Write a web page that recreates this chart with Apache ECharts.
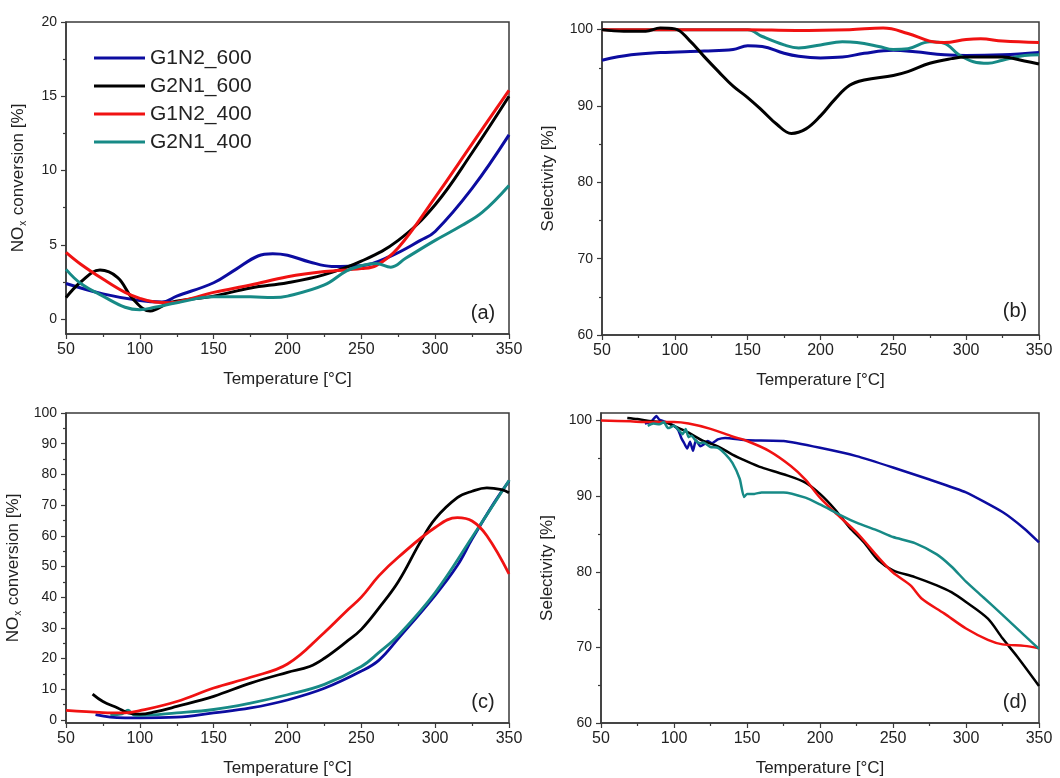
<!DOCTYPE html>
<html>
<head>
<meta charset="utf-8">
<script src="https://cdn.jsdelivr.net/npm/echarts@6/dist/echarts.min.js"></script>
<style>
html,body{margin:0;padding:0;background:#fff;}
#chart{width:1060px;height:778px;}
</style>
</head>
<body>
<div id="chart"></div>
<script>
// ---------- series names ----------
const seriesNames = ['G1N2_600', 'G2N1_600', 'G1N2_400', 'G2N1_400'];

// ---------- panel (a): NOx conversion ----------
const a_blue_T  = [50,75,100,115,125,150,165,180,190,200,215,230,250,270,290,300,325,350];
const a_blue_v  = [2.4,1.7,1.25,1.15,1.55,2.45,3.35,4.25,4.4,4.3,3.85,3.55,3.6,4.25,5.3,5.9,8.8,12.4];
const a_black_T = [50,60,73,85,95,107,120,135,150,175,200,225,250,275,300,325,350];
const a_black_v = [1.45,2.5,3.3,2.8,1.4,0.55,1.1,1.35,1.55,2.1,2.45,3.0,3.9,5.3,7.7,11.2,15.0];
const a_red_T   = [50,60,75,90,100,110,120,135,150,175,200,225,250,260,275,300,325,350];
const a_red_v   = [4.5,3.7,2.7,1.8,1.4,1.15,1.1,1.4,1.8,2.3,2.85,3.2,3.4,3.6,4.8,8.2,11.8,15.4];
const a_teal_T  = [50,60,75,90,100,110,125,150,175,190,200,225,240,250,260,270,280,300,318,332,350];
const a_teal_v  = [3.35,2.4,1.55,0.8,0.63,0.8,1.1,1.5,1.5,1.45,1.55,2.3,3.25,3.6,3.75,3.5,4.1,5.3,6.3,7.2,9.0];

// ---------- panel (b): selectivity ----------
const b_blue_T  = [50,70,90,120,140,150,160,175,185,200,215,230,250,265,285,300,325,350];
const b_blue_v  = [96.0,96.7,97.0,97.2,97.4,97.9,97.8,96.9,96.5,96.3,96.4,96.9,97.3,97.1,96.7,96.6,96.7,97.0];
const b_black_T = [50,65,80,90,100,110,120,130,140,150,160,170,180,190,200,210,220,230,250,260,275,290,300,325,340,350];
const b_black_v = [100,99.8,99.8,100.2,100.1,98.6,96.5,94.5,92.6,91.1,89.4,87.6,86.4,87.0,88.7,90.9,92.7,93.4,94.0,94.5,95.6,96.2,96.4,96.4,95.9,95.5];
const b_red_T   = [50,100,150,183,220,243,260,275,285,300,310,325,350];
const b_red_v   = [100,100,100,99.9,100,100.2,99.5,98.5,98.3,98.7,98.8,98.5,98.3];
const b_teal_T  = [50,100,150,160,175,185,200,215,225,240,250,260,275,285,295,305,315,325,340,350];
const b_teal_v  = [100,100,100,99.1,98.0,97.6,98.0,98.4,98.3,97.8,97.4,97.5,98.4,98.2,96.7,95.8,95.6,96.0,96.6,96.7];

// ---------- panel (c): NOx conversion ----------
const c_blue_T  = [70,80,90,100,125,150,175,200,225,250,262,275,300,315,325,340,350];
const c_blue_v  = [1.7,0.9,0.7,0.7,0.9,2.3,3.9,6.5,10.3,15.9,19.5,26.5,40.6,50.3,58.9,70.8,77.8];
const c_black_T = [68,75,85,92,100,110,125,150,175,200,215,225,240,250,262,275,290,300,315,325,335,345,350];
const c_black_v = [8.4,6.0,3.9,2.3,1.9,2.6,4.4,7.7,12.0,15.5,17.4,20.1,25.5,29.5,36.5,45.0,58.0,65.5,72.4,74.5,75.6,75.0,74.0];
const c_red_T   = [50,75,90,100,125,150,175,200,225,240,250,262,275,300,315,325,335,350];
const c_red_v   = [3.1,2.4,2.3,3.0,6.0,10.4,13.9,18.2,28.5,35.5,40.0,47.0,53.0,62.7,65.9,64.8,60.0,47.6];
const c_teal_T  = [80,88,92,96,100,125,150,175,200,225,250,262,275,300,325,350];
const c_teal_v  = [1.7,2.0,3.2,1.6,1.5,2.3,3.4,5.5,8.2,11.6,17.4,22.0,27.5,41.5,59.5,78.0];

// ---------- panel (d): selectivity ----------
const d_blue_T  = [80,84,88,90,93,96,100,103,105,107,109,111,113,115,118,120,123,126,130,135,150,175,200,225,250,275,300,325,340,350];
const d_blue_v  = [99.6,99.8,100.6,100.1,99.9,99.7,99.3,98.7,97.7,97.0,96.3,97.2,96.0,97.4,96.6,96.8,97.3,97.0,97.5,97.7,97.4,97.3,96.4,95.3,93.8,92.2,90.5,87.9,85.7,83.9];
const d_black_T = [68,75,85,95,100,110,120,130,140,150,160,175,190,200,210,220,230,240,250,265,280,290,300,315,325,335,350];
const d_black_v = [100.35,100.2,99.9,99.7,99.3,98.4,97.3,96.6,95.5,94.6,93.8,92.9,91.8,90.3,88.3,85.9,83.9,81.5,80.2,79.3,78.2,77.3,76.0,73.8,71.2,68.8,64.9];
const d_red_T   = [50,70,80,100,110,125,140,150,165,180,190,200,210,225,240,250,262,270,285,300,315,325,340,350];
const d_red_v   = [100,99.9,99.8,99.8,99.6,98.9,97.9,97.3,96.0,94.0,92.2,89.8,87.9,85.2,81.9,79.9,78.2,76.4,74.5,72.5,71.0,70.4,70.2,69.9];
const d_teal_T  = [82,86,90,93,96,100,103,106,108,110,112,115,118,120,125,130,135,140,145,148,150,155,160,175,190,200,215,225,240,250,265,280,290,300,312,325,340,350];
const d_teal_v  = [99.3,99.6,99.5,99.8,99.0,99.3,98.8,98.2,98.9,97.8,98.0,97.3,97.0,97.1,96.5,96.4,95.6,94.4,92.3,89.9,90.3,90.3,90.5,90.5,89.8,88.9,87.4,86.5,85.4,84.6,83.8,82.3,80.7,78.7,76.6,74.3,71.6,69.8];

// ---------- axis tick labels ----------
const xTicks      = [50,100,150,200,250,300,350];
const yTicksConv1 = [0,5,10,15,20];
const yMinorConv1 = [2.5,7.5,12.5,17.5];
const yTicksConv2 = [0,10,20,30,40,50,60,70,80,90,100];
const yMinorConv2 = [5,15,25,35,45,55,65,75,85,95];
const yTicksSel   = [60,70,80,90,100];
const yMinorSel   = [65,75,85,95];

// ---------- style ----------
const FONT = 'Liberation Sans, Arial, sans-serif';
const AX = '#3a3a3a';
const TXT = '#222';
const colors = {blue:'#0c0ca0', black:'#000000', red:'#f01212', teal:'#178a86'};

const grids = [
  {left:66,  top:22,  width:443, height:312},
  {left:602, top:22,  width:437, height:313},
  {left:66,  top:413, width:443, height:312},
  {left:601, top:413, width:438, height:312}
];

const convName = '{n|NO}{s|x}{n| conversion [%]}';
const selName = 'Selectivity [%]';
const panelY = [
  {min:-1, max:20,  ticks:yTicksConv1, minor:yMinorConv1, name:convName, gap:38},
  {min:60, max:101, ticks:yTicksSel,   minor:yMinorSel,   name:selName,  gap:45},
  {min:-1, max:100, ticks:yTicksConv2, minor:yMinorConv2, name:convName, gap:43},
  {min:60, max:101, ticks:yTicksSel,   minor:yMinorSel,   name:selName,  gap:45}
];

const xAxes = grids.map((g,i)=>({
  type:'value', gridIndex:i, min:xTicks[0], max:xTicks[xTicks.length-1], interval:50,
  name:'Temperature [°C]', nameLocation:'middle', nameGap:37,
  nameTextStyle:{fontFamily:FONT, fontSize:17, color:TXT},
  axisLine:{show:true, onZero:false, lineStyle:{color:AX, width:1.5}},
  axisTick:{show:true, inside:false, length:5, lineStyle:{color:AX, width:1.2}},
  minorTick:{show:true, splitNumber:2, length:3, lineStyle:{color:AX, width:1.2}},
  axisLabel:{fontFamily:FONT, fontSize:16, color:TXT, margin:8},
  splitLine:{show:false}
}));

const yAxes = [];
panelY.forEach((p,i)=>{
  yAxes.push({
    type:'value', gridIndex:i, min:p.min, max:p.max,
    name:p.name, nameLocation:'middle', nameGap:p.gap, nameRotate:90,
    nameTextStyle:{fontFamily:FONT, fontSize:17, color:TXT,
      rich:{n:{fontFamily:FONT, fontSize:17, color:TXT, lineHeight:20},
            s:{fontFamily:FONT, fontSize:10, color:TXT, lineHeight:20, verticalAlign:'bottom', padding:[0,1,0,1]}}},
    axisLine:{show:true, onZero:false, lineStyle:{color:AX, width:1.5}},
    axisTick:{show:true, inside:false, length:5, customValues:p.ticks, lineStyle:{color:AX, width:1.2}},
    axisLabel:{fontFamily:FONT, fontSize:14, color:TXT, margin:9, customValues:p.ticks},
    splitLine:{show:false}
  });
});
panelY.forEach((p,i)=>{
  yAxes.push({
    type:'value', gridIndex:i, min:p.min, max:p.max, position:'left',
    axisLine:{show:false},
    axisTick:{show:true, inside:false, length:3, customValues:p.minor, lineStyle:{color:AX, width:1.2}},
    axisLabel:{show:false, customValues:p.minor},
    splitLine:{show:false}
  });
});

function pairs(T, V){ return T.map((t,k)=>[t, V[k]]); }
function mk(name, color, T, V, idx, smooth, width){
  return {
    name:name, type:'line', xAxisIndex:idx, yAxisIndex:idx,
    data:pairs(T,V), showSymbol:false, symbol:'none', smooth:smooth,
    lineStyle:{color:color, width:width}, itemStyle:{color:color},
    emphasis:{disabled:true}, z:3
  };
}

const series = [
  mk(seriesNames[0], colors.blue,  a_blue_T,  a_blue_v,  0, 0.4, 3),
  mk(seriesNames[1], colors.black, a_black_T, a_black_v, 0, 0.4, 3),
  mk(seriesNames[2], colors.red,   a_red_T,   a_red_v,   0, 0.4, 3),
  mk(seriesNames[3], colors.teal,  a_teal_T,  a_teal_v,  0, 0.4, 3),

  mk(seriesNames[0], colors.blue,  b_blue_T,  b_blue_v,  1, 0.4, 3),
  mk(seriesNames[3], colors.teal,  b_teal_T,  b_teal_v,  1, 0.4, 3),
  mk(seriesNames[2], colors.red,   b_red_T,   b_red_v,   1, 0.4, 3),
  mk(seriesNames[1], colors.black, b_black_T, b_black_v, 1, 0.4, 3),

  mk(seriesNames[0], colors.blue,  c_blue_T,  c_blue_v,  2, 0.4, 2.8),
  mk(seriesNames[3], colors.teal,  c_teal_T,  c_teal_v,  2, 0.4, 2.8),
  mk(seriesNames[1], colors.black, c_black_T, c_black_v, 2, 0.4, 2.8),
  mk(seriesNames[2], colors.red,   c_red_T,   c_red_v,   2, 0.4, 2.8),

  mk(seriesNames[0], colors.blue,  d_blue_T,  d_blue_v,  3, 0.15, 2.5),
  mk(seriesNames[1], colors.black, d_black_T, d_black_v, 3, 0.3, 2.5),
  mk(seriesNames[2], colors.red,   d_red_T,   d_red_v,   3, 0.3, 2.5),
  mk(seriesNames[3], colors.teal,  d_teal_T,  d_teal_v,  3, 0.2, 2.5)
];

const panelLabels = [
  {t:'(a)', x:483,  y:313},
  {t:'(b)', x:1015, y:311},
  {t:'(c)', x:483,  y:702},
  {t:'(d)', x:1015, y:702}
];

const option = {
  backgroundColor:'#fff',
  animation:false,
  grid: grids.map(g=>Object.assign({show:true, borderColor:AX, borderWidth:1.5, backgroundColor:'transparent'}, g)),
  xAxis:xAxes,
  yAxis:yAxes,
  legend:{
    data:seriesNames, orient:'vertical', left:89, top:39,
    icon:'rect', itemWidth:51, itemHeight:3, itemGap:0,
    textStyle:{fontFamily:FONT, fontSize:21, color:TXT, lineHeight:28},
    selectedMode:false
  },
  graphic: panelLabels.map(p=>({
    type:'text', x:p.x, y:p.y, z:10,
    style:{text:p.t, fontFamily:FONT, fontSize:20, fill:TXT, align:'center', verticalAlign:'middle'}
  })),
  series:series
};

const chart = echarts.init(document.getElementById('chart'), null, {renderer:'canvas'});
chart.setOption(option);
</script>
</body>
</html>
